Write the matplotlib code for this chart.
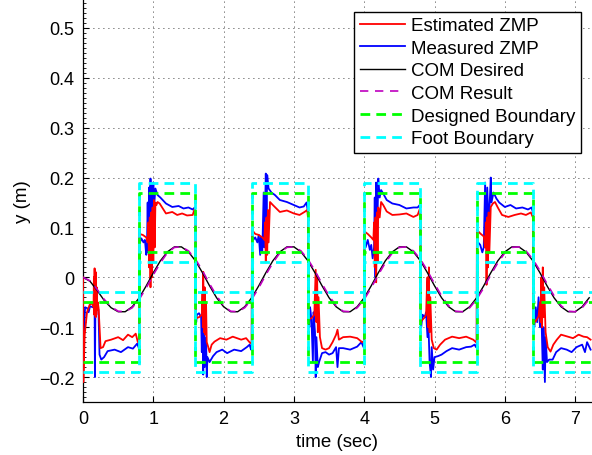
import matplotlib
matplotlib.use('Agg')
import matplotlib.pyplot as plt
import numpy as np
from matplotlib.ticker import MultipleLocator

plt.rcParams['font.family'] = ['Liberation Sans', 'DejaVu Sans']

# Estimated ZMP (red) as (time, y) vertices
est_zmp = [
    (0.000, 0.000), (0.005, -0.210), (0.024, -0.115), (0.057, -0.070), (0.095, -0.055), (0.140, -0.052),
    (0.150, -0.060), (0.155, 0.000), (0.160, -0.075), (0.165, 0.018), (0.170, -0.070), (0.175, 0.005),
    (0.180, -0.080), (0.185, 0.010), (0.190, -0.075), (0.195, -0.020), (0.200, -0.065), (0.210, -0.050),
    (0.222, -0.062), (0.250, -0.142), (0.285, -0.140), (0.320, -0.128), (0.400, -0.125), (0.500, -0.120),
    (0.570, -0.126), (0.640, -0.115), (0.700, -0.120), (0.750, -0.113), (0.780, -0.130), (0.800, -0.128),
    (0.803, 0.087), (0.850, 0.085), (0.900, 0.080), (0.920, 0.070), (0.930, 0.110), (0.940, 0.020),
    (0.950, 0.120), (0.960, -0.020), (0.970, 0.130), (0.980, 0.000), (0.990, 0.140), (1.000, 0.030),
    (1.010, 0.155), (1.020, 0.060), (1.030, 0.150), (1.045, 0.145), (1.060, 0.151), (1.090, 0.148),
    (1.180, 0.128), (1.270, 0.131), (1.340, 0.125), (1.410, 0.128), (1.480, 0.124), (1.560, 0.125),
    (1.590, 0.138), (1.600, 0.120),
    (1.603, -0.082), (1.650, -0.080), (1.690, -0.075), (1.700, -0.030), (1.705, -0.100), (1.710, 0.011),
    (1.720, -0.110), (1.730, -0.020), (1.740, -0.115), (1.750, -0.050), (1.760, -0.130), (1.780, -0.139),
    (1.800, -0.150), (1.830, -0.135), (1.870, -0.129), (1.950, -0.122), (2.040, -0.125), (2.130, -0.119),
    (2.250, -0.125), (2.320, -0.122), (2.380, -0.132), (2.400, -0.130),
    (2.403, 0.095), (2.450, 0.087), (2.500, 0.085), (2.550, 0.080), (2.580, 0.075), (2.590, 0.110),
    (2.600, 0.030), (2.610, 0.120), (2.620, 0.045), (2.630, 0.135), (2.640, 0.070), (2.660, 0.151),
    (2.700, 0.145), (2.800, 0.131), (2.900, 0.134), (3.000, 0.128), (3.080, 0.125), (3.150, 0.131),
    (3.190, 0.135), (3.200, 0.120),
    (3.203, -0.085), (3.250, -0.082), (3.290, -0.075), (3.300, -0.030), (3.310, 0.015), (3.320, -0.090),
    (3.330, 0.005), (3.340, -0.110), (3.350, -0.040), (3.370, -0.120), (3.400, -0.142), (3.450, -0.145),
    (3.500, -0.142), (3.550, -0.130), (3.600, -0.115), (3.620, -0.105), (3.640, -0.125), (3.700, -0.120),
    (3.800, -0.119), (3.900, -0.122), (3.970, -0.130), (4.000, -0.128),
    (4.003, 0.092), (4.050, 0.087), (4.100, 0.080), (4.130, 0.075), (4.140, 0.110), (4.150, 0.020),
    (4.160, 0.120), (4.170, -0.010), (4.180, 0.130), (4.190, 0.030), (4.200, 0.140), (4.220, 0.120),
    (4.240, 0.151), (4.270, 0.145), (4.320, 0.132), (4.400, 0.125), (4.500, 0.126), (4.600, 0.128),
    (4.700, 0.121), (4.760, 0.125), (4.790, 0.137), (4.800, 0.120),
    (4.803, -0.089), (4.850, -0.082), (4.880, -0.075), (4.890, -0.030), (4.900, 0.000), (4.910, -0.100),
    (4.920, 0.020), (4.930, -0.110), (4.940, -0.040), (4.960, -0.125), (4.990, -0.142), (5.030, -0.145),
    (5.080, -0.135), (5.150, -0.125), (5.250, -0.119), (5.350, -0.122), (5.450, -0.119), (5.550, -0.125),
    (5.590, -0.130), (5.600, -0.128),
    (5.603, 0.095), (5.650, 0.088), (5.700, 0.082), (5.720, 0.060), (5.730, 0.110), (5.740, -0.015),
    (5.750, 0.120), (5.760, 0.020), (5.770, 0.130), (5.780, 0.050), (5.800, 0.141), (5.830, 0.148),
    (5.860, 0.151), (5.900, 0.140), (5.960, 0.125), (6.050, 0.121), (6.140, 0.125), (6.230, 0.128),
    (6.300, 0.125), (6.370, 0.130), (6.400, 0.120),
    (6.403, -0.092), (6.440, -0.088), (6.480, -0.078), (6.500, -0.050), (6.510, -0.090), (6.520, 0.000),
    (6.530, -0.100), (6.540, 0.020), (6.550, -0.080), (6.560, -0.020), (6.580, -0.110), (6.610, -0.140),
    (6.650, -0.149), (6.690, -0.135), (6.740, -0.125), (6.800, -0.115), (6.900, -0.119), (6.970, -0.122),
    (7.050, -0.115), (7.120, -0.119), (7.170, -0.120), (7.220, -0.125),
]

# Measured ZMP (blue)
meas_zmp = [
    (0.000, 0.000), (0.004, -0.170), (0.010, -0.120), (0.030, -0.060), (0.060, -0.062), (0.080, -0.070),
    (0.100, -0.058), (0.140, -0.060), (0.165, -0.062), (0.170, -0.200), (0.176, -0.065), (0.200, -0.060),
    (0.220, -0.065), (0.235, -0.155), (0.260, -0.165), (0.300, -0.160), (0.350, -0.148), (0.450, -0.145),
    (0.540, -0.150), (0.640, -0.140), (0.710, -0.143), (0.770, -0.133), (0.790, -0.140), (0.800, -0.145),
    (0.803, 0.100), (0.810, 0.070), (0.830, 0.078), (0.860, 0.070), (0.880, 0.075), (0.900, 0.045),
    (0.910, 0.060), (0.920, 0.150), (0.930, 0.050), (0.940, 0.180), (0.950, 0.020), (0.960, 0.198),
    (0.970, 0.080), (0.980, 0.185), (0.990, 0.100), (1.000, 0.190), (1.010, 0.140), (1.030, 0.178),
    (1.060, 0.165), (1.100, 0.160), (1.180, 0.148), (1.270, 0.141), (1.360, 0.143), (1.430, 0.138),
    (1.500, 0.140), (1.560, 0.136), (1.590, 0.140), (1.600, 0.130),
    (1.603, -0.070), (1.610, -0.090), (1.620, -0.075), (1.650, -0.072), (1.680, -0.080), (1.690, -0.150),
    (1.700, -0.070), (1.710, -0.195), (1.720, -0.090), (1.730, -0.180), (1.750, -0.120), (1.760, -0.200),
    (1.770, -0.160), (1.800, -0.170), (1.850, -0.158), (1.900, -0.150), (1.980, -0.145), (2.050, -0.152),
    (2.150, -0.145), (2.250, -0.148), (2.330, -0.140), (2.370, -0.135), (2.390, -0.145), (2.400, -0.140),
    (2.403, 0.090), (2.420, 0.075), (2.450, 0.080), (2.480, 0.070), (2.500, 0.085), (2.520, 0.045),
    (2.530, 0.080), (2.550, 0.050), (2.570, 0.170), (2.580, 0.060), (2.600, 0.208), (2.610, 0.120),
    (2.620, 0.205), (2.640, 0.178), (2.680, 0.170), (2.730, 0.165), (2.800, 0.155), (2.900, 0.151),
    (3.000, 0.145), (3.080, 0.140), (3.140, 0.142), (3.180, 0.150), (3.200, 0.130),
    (3.203, -0.080), (3.220, -0.100), (3.230, -0.060), (3.250, -0.085), (3.270, -0.170), (3.280, -0.070),
    (3.300, -0.110), (3.310, -0.200), (3.320, -0.120), (3.340, -0.180), (3.360, -0.169), (3.400, -0.152),
    (3.450, -0.150), (3.500, -0.155), (3.550, -0.152), (3.600, -0.140), (3.620, -0.180), (3.640, -0.142),
    (3.700, -0.142), (3.800, -0.145), (3.900, -0.139), (3.960, -0.130), (3.990, -0.140), (4.000, -0.130),
    (4.003, 0.085), (4.020, 0.060), (4.050, 0.075), (4.080, 0.055), (4.100, 0.065), (4.120, 0.038),
    (4.140, 0.060), (4.150, 0.160), (4.160, 0.000), (4.170, 0.190), (4.180, 0.050), (4.200, 0.198),
    (4.220, 0.160), (4.240, 0.175), (4.270, 0.168), (4.320, 0.155), (4.400, 0.148), (4.500, 0.145),
    (4.600, 0.138), (4.700, 0.140), (4.760, 0.140), (4.790, 0.145), (4.800, 0.130),
    (4.803, -0.080), (4.810, -0.100), (4.830, -0.075), (4.860, -0.080), (4.880, -0.070), (4.900, -0.120),
    (4.910, -0.080), (4.930, -0.170), (4.950, -0.200), (4.960, -0.140), (4.980, -0.185), (5.000, -0.160),
    (5.050, -0.158), (5.100, -0.155), (5.170, -0.148), (5.250, -0.142), (5.350, -0.145), (5.450, -0.140),
    (5.520, -0.139), (5.570, -0.135), (5.590, -0.140), (5.600, -0.135),
    (5.603, 0.085), (5.620, 0.070), (5.650, 0.065), (5.680, 0.050), (5.700, 0.060), (5.720, 0.190),
    (5.730, 0.070), (5.750, 0.180), (5.770, 0.100), (5.800, 0.200), (5.810, 0.150), (5.840, 0.170),
    (5.880, 0.158), (5.920, 0.150), (6.000, 0.141), (6.080, 0.145), (6.160, 0.138), (6.250, 0.140),
    (6.330, 0.136), (6.380, 0.140), (6.400, 0.130),
    (6.403, -0.085), (6.420, -0.100), (6.440, -0.060), (6.460, -0.090), (6.480, -0.040), (6.500, -0.100),
    (6.520, -0.070), (6.540, -0.185), (6.550, -0.100), (6.570, -0.210), (6.580, -0.120), (6.600, -0.170),
    (6.630, -0.165), (6.680, -0.165), (6.730, -0.150), (6.800, -0.142), (6.880, -0.145), (6.950, -0.150),
    (7.020, -0.140), (7.100, -0.135), (7.140, -0.150), (7.170, -0.130), (7.220, -0.145),
]

# COM trajectories, sampled every 0.1 s
com_t = [0.0, 0.1, 0.2, 0.3, 0.4, 0.5, 0.6, 0.7, 0.8, 0.9,
         1.0, 1.1, 1.2, 1.3, 1.4, 1.5, 1.6, 1.7, 1.8, 1.9,
         2.0, 2.1, 2.2, 2.3, 2.4, 2.5, 2.6, 2.7, 2.8, 2.9,
         3.0, 3.1, 3.2, 3.3, 3.4, 3.5, 3.6, 3.7, 3.8, 3.9,
         4.0, 4.1, 4.2, 4.3, 4.4, 4.5, 4.6, 4.7, 4.8, 4.9,
         5.0, 5.1, 5.2, 5.3, 5.4, 5.5, 5.6, 5.7, 5.8, 5.9,
         6.0, 6.1, 6.2, 6.3, 6.4, 6.5, 6.6, 6.7, 6.8, 6.9,
         7.0, 7.1, 7.2]
com_desired = [0.000, -0.008, -0.026, -0.046, -0.061, -0.069, -0.069, -0.059, -0.041, -0.017,
               0.009, 0.033, 0.051, 0.061, 0.061, 0.051, 0.033, 0.009, -0.017, -0.041,
               -0.059, -0.069, -0.069, -0.059, -0.041, -0.017, 0.009, 0.033, 0.051, 0.061,
               0.061, 0.051, 0.033, 0.009, -0.017, -0.041, -0.059, -0.069, -0.069, -0.059,
               -0.041, -0.017, 0.009, 0.033, 0.051, 0.061, 0.061, 0.051, 0.033, 0.009,
               -0.017, -0.041, -0.059, -0.069, -0.069, -0.059, -0.041, -0.017, 0.009, 0.033,
               0.051, 0.061, 0.061, 0.051, 0.033, 0.009, -0.017, -0.041, -0.059, -0.069,
               -0.069, -0.059, -0.041]
com_result = [0.000, -0.007, -0.024, -0.044, -0.059, -0.068, -0.069, -0.061, -0.044, -0.021,
              0.005, 0.029, 0.049, 0.060, 0.061, 0.053, 0.036, 0.013, -0.013, -0.037,
              -0.057, -0.068, -0.069, -0.061, -0.044, -0.021, 0.005, 0.029, 0.049, 0.060,
              0.061, 0.053, 0.036, 0.013, -0.013, -0.037, -0.057, -0.068, -0.069, -0.061,
              -0.044, -0.021, 0.005, 0.029, 0.049, 0.060, 0.061, 0.053, 0.036, 0.013,
              -0.013, -0.037, -0.057, -0.068, -0.069, -0.061, -0.044, -0.021, 0.005, 0.029,
              0.049, 0.060, 0.061, 0.053, 0.036, 0.013, -0.013, -0.037, -0.057, -0.068,
              -0.069, -0.061, -0.044]

# Support polygon boundaries per step (last value repeated for steps-post)
step_t = [0.0, 0.8, 1.6, 2.4, 3.2, 4.0, 4.8, 5.6, 6.4, 7.24]
designed_upper = [-0.05, 0.17, -0.05, 0.17, -0.05, 0.17, -0.05, 0.17, -0.05, -0.05]
designed_lower = [-0.17, 0.05, -0.17, 0.05, -0.17, 0.05, -0.17, 0.05, -0.17, -0.17]
foot_upper = [-0.03, 0.19, -0.03, 0.19, -0.03, 0.19, -0.03, 0.19, -0.03, -0.03]
foot_lower = [-0.19, 0.03, -0.19, 0.03, -0.19, 0.03, -0.19, 0.03, -0.19, -0.19]

labels = ['Estimated ZMP', 'Measured ZMP', 'COM Desired', 'COM Result',
          'Designed Boundary', 'Foot Boundary']
xticks = [0, 1, 2, 3, 4, 5, 6, 7]
yticks = [-0.2, -0.1, 0.0, 0.1, 0.2, 0.3, 0.4, 0.5]
ytick_labels = ['\u22120.2', '\u22120.1', '0', '0.1', '0.2', '0.3', '0.4', '0.5']

fig = plt.figure(figsize=(5.92, 4.56), dpi=100)
ax = fig.add_axes([83 / 592, 53 / 456, 509 / 592, 403 / 456])

est = np.array(est_zmp)
meas = np.array(meas_zmp)
l_meas, = ax.plot(meas[:, 0], meas[:, 1], color='b', lw=1.3, zorder=2)
l_est, = ax.plot(est[:, 0], est[:, 1], color='r', lw=1.3, zorder=3)
l_des, = ax.plot(com_t, com_desired, color='k', lw=1.0, zorder=4)
l_res, = ax.plot(com_t, com_result, color='m', lw=1.2, dashes=(5, 4), zorder=5)
l_db, = ax.plot(step_t, designed_upper, drawstyle='steps-post', color=(0, 1, 0), lw=2, dashes=(3.5, 2.2), zorder=6)
ax.plot(step_t, designed_lower, drawstyle='steps-post', color=(0, 1, 0), lw=2, dashes=(3.5, 2.2), zorder=6)
l_fb, = ax.plot(step_t, foot_upper, drawstyle='steps-post', color=(0, 1, 1), lw=2, dashes=(3.5, 2.2), zorder=6)
ax.plot(step_t, foot_lower, drawstyle='steps-post', color=(0, 1, 1), lw=2, dashes=(3.5, 2.2), zorder=6)

ax.set_xlim(0, 7.24)
ax.set_ylim(-0.25, 0.558)
ax.set_xticks(xticks)
ax.set_xticklabels([str(v) for v in xticks])
ax.set_yticks(yticks)
ax.set_yticklabels(ytick_labels)
ax.yaxis.set_minor_locator(MultipleLocator(0.01))

ax.grid(True, color='k', lw=0.6, linestyle=(0, (1, 5)))
ax.set_axisbelow(True)
ax.tick_params(which='major', direction='in', length=4, width=0.8, labelsize=13, pad=6,
               top=False, right=False)
ax.tick_params(which='minor', direction='in', length=2, width=0.6, top=False, right=False)
for side in ['top', 'right']:
    ax.spines[side].set_visible(False)
for side in ['left', 'bottom']:
    ax.spines[side].set_linewidth(0.9)

ax.set_xlabel('time (sec)', fontsize=13.5, labelpad=4)
ax.set_ylabel('y (m)', fontsize=13.5, labelpad=6)

leg = ax.legend([l_est, l_meas, l_des, l_res, l_db, l_fb], labels,
                loc='upper right', bbox_to_anchor=(581 / 592, 1 - 12.5 / 456),
                bbox_transform=fig.transFigure, borderaxespad=0, fontsize=13.5,
                handlelength=2.4, handletextpad=0.32, labelspacing=0.29, borderpad=0.3,
                fancybox=False, framealpha=1, edgecolor='k')
leg.get_frame().set_linewidth(1.0)
leg.set_zorder(10)

fig.savefig('out.png', dpi=100)
